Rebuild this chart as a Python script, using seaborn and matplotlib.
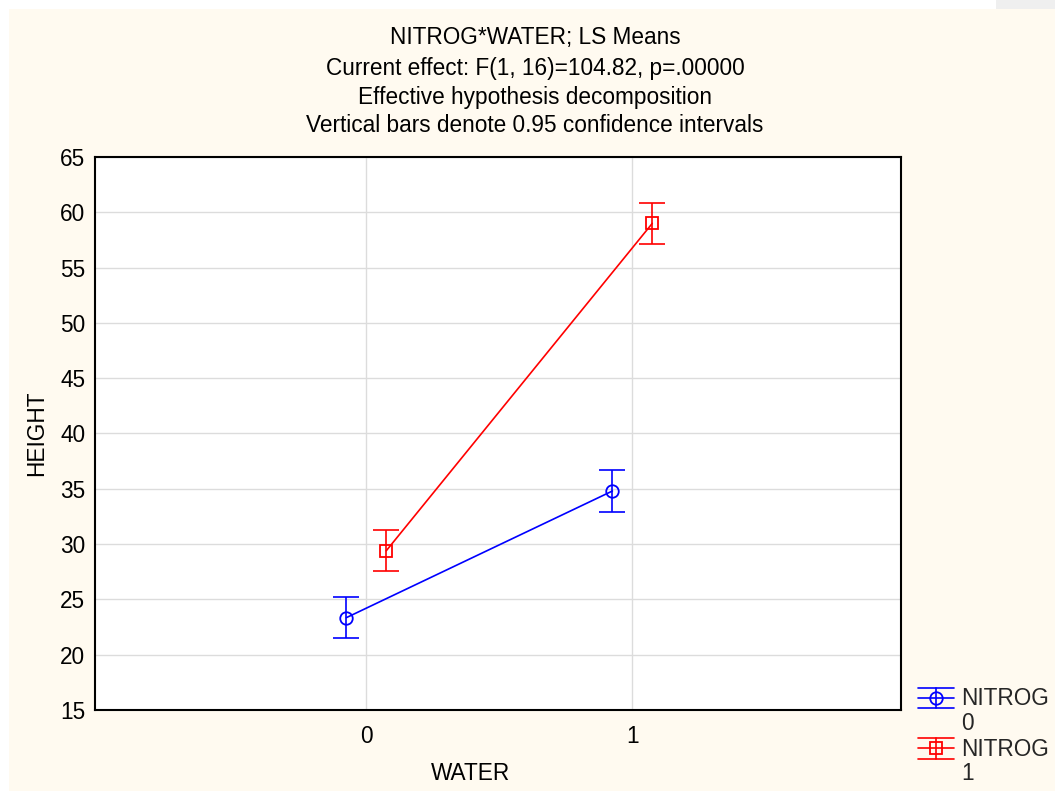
import numpy as np
import pandas as pd
import matplotlib
matplotlib.use("Agg")
import matplotlib.pyplot as plt
from matplotlib.patches import Rectangle
from matplotlib.lines import Line2D
from matplotlib.legend_handler import HandlerBase
import seaborn as sns

# LS means of plant height by water and nitrogen level, with 0.95 CI half-widths
water_levels = ["0", "1"]
nitrog_levels = ["0", "1"]
height_nitrog0 = [23.35, 34.8]
height_nitrog1 = [29.4, 59.0]
ci_nitrog0 = [1.88, 1.87]
ci_nitrog1 = [1.87, 1.87]

title_lines = [
    "NITROG*WATER; LS Means",
    "Current effect: F(1, 16)=104.82, p=.00000",
    "Effective hypothesis decomposition",
    "Vertical bars denote 0.95 confidence intervals",
]

df = pd.DataFrame({
    "WATER": water_levels * 2,
    "NITROG": [nitrog_levels[0]] * 2 + [nitrog_levels[1]] * 2,
    "HEIGHT": height_nitrog0 + height_nitrog1,
})
ci = {nitrog_levels[0]: ci_nitrog0, nitrog_levels[1]: ci_nitrog1}
means = {nitrog_levels[0]: height_nitrog0, nitrog_levels[1]: height_nitrog1}

sns.set_theme(style="white")
plt.rcParams["font.family"] = ["Liberation Sans", "DejaVu Sans"]
FS = 16.3

CREAM = "#fffaf0"
colors = ["#0000ff", "#ff0000"]

W, H = 1055, 791
fig = plt.figure(figsize=(W / 100, H / 100), dpi=100)
fig.patch.set_facecolor("white")
fig.add_artist(Rectangle((9 / W, 0), 1 - 9 / W, 1 - 9 / H, transform=fig.transFigure,
                         facecolor=CREAM, edgecolor="none", zorder=-10))
fig.add_artist(Rectangle((996 / W, 1 - 9 / H), 1 - 996 / W, 9 / H, transform=fig.transFigure,
                         facecolor="#efefef", edgecolor="none", zorder=-10))

ax = fig.add_axes([95 / W, 1 - 710 / H, (901 - 95) / W, (710 - 157) / H])
ax.set_facecolor("white")

sns.pointplot(data=df, x="WATER", y="HEIGHT", hue="NITROG", order=water_levels,
              hue_order=nitrog_levels, palette=colors, markers=["o", "s"],
              linestyles=["-", "-"], dodge=0.15, errorbar=None, legend=False,
              linewidth=1.2, markersize=9, markeredgewidth=1.3, ax=ax)

point_lines = [ln for ln in ax.lines if len(ln.get_xdata()) == len(water_levels)]
for ln, lvl, col in zip(point_lines, nitrog_levels, colors):
    ln.set_markerfacecolor("none")
    ln.set_zorder(4)
    ax.errorbar(ln.get_xdata(), means[lvl], yerr=ci[lvl], fmt="none", ecolor=col,
                elinewidth=1.2, capsize=9.5, capthick=1.2, zorder=3)

ax.set_xlim(-1.02, 2.01)
ax.set_ylim(15, 65)
ax.set_yticks(np.arange(15, 66, 5))
ax.grid(True, color="#dcdcdc", linewidth=1.0)
ax.set_axisbelow(True)
for sp in ax.spines.values():
    sp.set_color("black")
    sp.set_linewidth(1.5)
ax.tick_params(axis="both", direction="in", length=4, width=1, color="black",
               labelsize=FS, labelcolor="black")
ax.tick_params(axis="x", pad=10.5)
ax.tick_params(axis="y", pad=7)

ax.set_xlabel("WATER", fontsize=FS, color="black")
ax.set_ylabel("HEIGHT", fontsize=FS, color="black")
ax.xaxis.label.set_va("center")
ax.xaxis.set_label_coords((471 - 95) / 806, (710 - 773) / 553)
ax.yaxis.label.set_va("center")
ax.yaxis.set_label_coords((37 - 95) / 806, (710 - 433) / 553)

for txt, ypx in zip(title_lines, [37.5, 69, 97.5, 126]):
    fig.text(535 / W, 1 - ypx / H, txt, ha="center", va="center", fontsize=FS, color="black")


class CIHandle(HandlerBase):
    """Legend key showing a point with its confidence bar."""

    def create_artists(self, legend, orig_handle, xdescent, ydescent, width, height,
                       fontsize, trans):
        col = orig_handle.get_color()
        mk = orig_handle.get_marker()
        x0, x1 = -xdescent, width - xdescent
        xm = (x0 + x1) / 2
        cy = (height - ydescent) / 2 + 0.62 * fontsize
        hh = 0.45 * fontsize
        arts = [
            Line2D([x0, x1], [cy, cy], color=col, lw=1.2),
            Line2D([x0, x1], [cy + hh, cy + hh], color=col, lw=1.2),
            Line2D([x0, x1], [cy - hh, cy - hh], color=col, lw=1.2),
            Line2D([xm, xm], [cy - hh, cy + hh], color=col, lw=1.2),
            Line2D([xm], [cy], marker=mk, markersize=9, markerfacecolor="none",
                   markeredgecolor=col, markeredgewidth=1.3, linestyle="none"),
        ]
        for a in arts:
            a.set_transform(trans)
        return arts


labels = [f"NITROG\n{lvl}" for lvl in nitrog_levels]
handler = CIHandle()
leg = fig.legend(point_lines, labels, handler_map={ln: handler for ln in point_lines},
                 loc="upper left", bbox_to_anchor=(918 / W, 1 - 687 / H),
                 bbox_transform=fig.transFigure, frameon=False, fontsize=FS,
                 borderpad=0, borderaxespad=0, handlelength=1.6, handletextpad=0.3,
                 labelspacing=0.12)
for t in leg.get_texts():
    t.set_linespacing(1.1)

fig.savefig("out.png", dpi=100, facecolor=fig.get_facecolor())
